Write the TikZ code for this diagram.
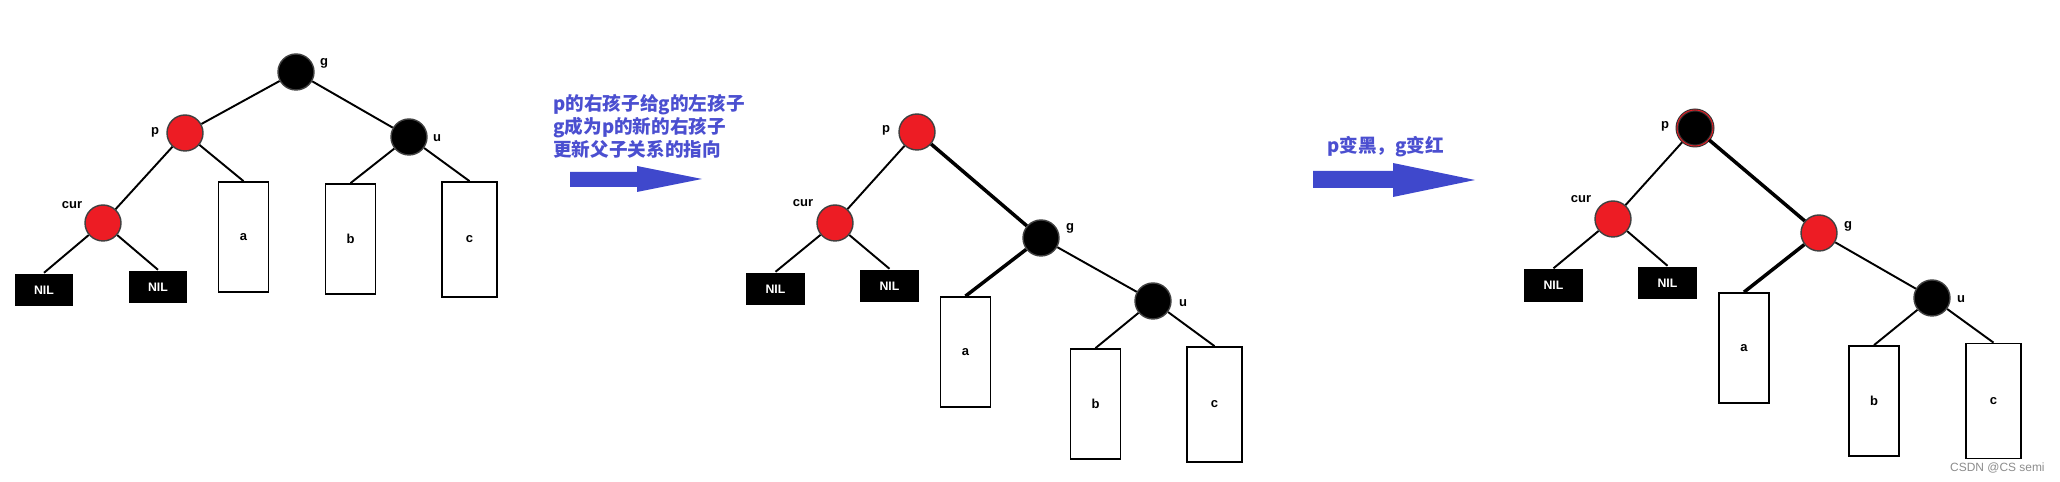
\documentclass[tikz,border=0pt]{standalone}
\usepackage{fontspec}
\setmainfont{Liberation Sans}
\newfontfamily\cjk{Noto Sans CJK SC}
\usepackage{xcolor}
\usepackage{tikz}
\definecolor{nodered}{HTML}{ED1C24}
\definecolor{arrowblue}{HTML}{3F48CC}
\definecolor{textblue}{HTML}{4B4FD0}

\begin{document}
\begin{tikzpicture}[x=0.02cm, y=-0.02cm,
	rn/.style={circle, fill=nodered, draw=black!75, line width=0.8pt, minimum size=0.72cm, inner sep=0pt},
	bn/.style={circle, fill=black, draw=black!75, line width=0.8pt, minimum size=0.72cm, inner sep=0pt},
	pn/.style={bn, draw=black!80, double=nodered, double distance=0.5pt, line width=0.6pt},
	nil/.style={rectangle, fill=black, text=white, font=\fontsize{7}{8}\selectfont\bfseries, minimum width=1.17cm, minimum height=0.65cm, inner sep=0pt},
	sub/.style={rectangle, draw, line width=1pt, font=\fontsize{7.4}{8}\selectfont\bfseries, minimum width=1cm, minimum height=2.2cm, inner sep=0pt},
	wide/.style={minimum width=1.1cm, minimum height=2.3cm},
	lbl/.style={font=\fontsize{7.4}{8}\selectfont\bfseries, inner sep=0pt},
	edge/.style={line width=1.1pt},
	heavy/.style={line width=2pt},
	note/.style={anchor=west, align=left, text=textblue, font=\cjk\bfseries\fontsize{10.6}{13.2}\selectfont, inner sep=0pt}]
\useasboundingbox (0,0) rectangle (2060,482);

% before
\draw[edge]
	node[bn] at (296,72) (g1) {}
	node[rn] at (185,133) (p1) {}
	node[bn] at (409,137) (u1) {}
	node[rn] at (103,223) (cur1) {}
	node[nil] at (44,290) (nl1) {NIL}
	node[nil] at (158,287) (nr1) {NIL}
	node[sub] at (243.5,237) (a1) {a}
	node[sub] at (350.5,239) (b1) {b}
	node[sub, wide] at (469.5,239.5) (c1) {c}
	(g1) -- (p1)
	(g1) -- (u1)
	(p1) -- (cur1)
	(p1) -- (a1.north)
	(u1) -- (b1.north)
	(u1) -- (c1.north)
	(cur1) -- (nl1.north)
	(cur1) -- (nr1.north);
\node[lbl] at (324,63) (lg1) {g};
\node[lbl] at (155,132) (lp1) {p};
\node[lbl] at (437,138) (lu1) {u};
\node[lbl] at (72,205) (lc1) {cur};

% rotate
\node[note] at (553,126.5) (txt1) {p的右孩子给g的左孩子\\g成为p的新的右孩子\\更新父子关系的指向};
\fill[arrowblue] (570,172) -- (637,172) -- (637,166) -- (702,179) -- (637,192) -- (637,187) -- (570,187) -- cycle;

% after rotate
\draw[edge]
	node[rn] at (917,132) (p2) {}
	node[rn] at (835,223) (cur2) {}
	node[bn] at (1041,238) (g2) {}
	node[bn] at (1153,301) (u2) {}
	node[nil] at (775.5,289) (nl2) {NIL}
	node[nil] at (889.5,286) (nr2) {NIL}
	node[sub] at (965.5,352) (a2) {a}
	node[sub] at (1095.5,404) (b2) {b}
	node[sub, wide] at (1214.5,404.5) (c2) {c}
	(p2) -- (cur2)
	(g2) -- (u2)
	(u2) -- (b2.north)
	(u2) -- (c2.north)
	(cur2) -- (nl2.north)
	(cur2) -- (nr2.north);
\draw[heavy] (p2) -- (g2) (g2) -- (a2.north);
\node[lbl] at (886,130) (lp2) {p};
\node[lbl] at (803,203) (lc2) {cur};
\node[lbl] at (1070,228) (lg2) {g};
\node[lbl] at (1183,303) (lu2) {u};

% recolour
\node[note] at (1327,147) (txt2) {p变黑，g变红};
\fill[arrowblue] (1313,171) -- (1393,171) -- (1393,163) -- (1475,180) -- (1393,197) -- (1393,188) -- (1313,188) -- cycle;

% after recolour
\draw[edge]
	node[pn] at (1695,128) (p3) {}
	node[rn] at (1613,219) (cur3) {}
	node[rn] at (1819,233) (g3) {}
	node[bn] at (1932,298) (u3) {}
	node[nil] at (1553.5,285.5) (nl3) {NIL}
	node[nil] at (1667.5,283) (nr3) {NIL}
	node[sub] at (1744,348) (a3) {a}
	node[sub] at (1874,401) (b3) {b}
	node[sub, wide] at (1993.5,401) (c3) {c}
	(p3) -- (cur3)
	(g3) -- (u3)
	(u3) -- (b3.north)
	(u3) -- (c3.north)
	(cur3) -- (nl3.north)
	(cur3) -- (nr3.north);
\draw[heavy] (p3) -- (g3) (g3) -- (a3.north);
\node[lbl] at (1665,126) (lp3) {p};
\node[lbl] at (1581,199) (lc3) {cur};
\node[lbl] at (1848,226) (lg3) {g};
\node[lbl] at (1961,299) (lu3) {u};

\node[anchor=east, text=black!45, font=\fontsize{6.8}{8}\selectfont, inner sep=0pt] at (2045,468) (mark) {CSDN @CS semi};
\end{tikzpicture}
\end{document}
